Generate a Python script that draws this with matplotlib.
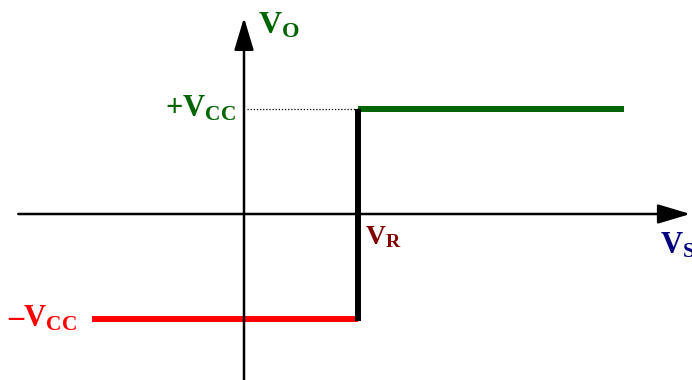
import matplotlib
matplotlib.use("Agg")
import matplotlib.pyplot as plt

plt.rcParams['mathtext.fontset'] = 'custom'
plt.rcParams['mathtext.bf'] = 'Liberation Serif:bold'
plt.rcParams['mathtext.rm'] = 'Liberation Serif:bold'

# Transfer characteristic of a comparator (values in units of Vcc)
vcc = 1.0
vr = 1.086
x_start = -1.448
x_end = 3.62
high_x = [vr, x_end]
high_y = [vcc, vcc]
low_x = [x_start, vr]
low_y = [-vcc, -vcc]
step_x = [vr, vr]
step_y = [-vcc - 0.02, vcc]

fig = plt.figure(figsize=(6.92, 3.80), dpi=100)
ax = fig.add_axes([0, 0, 1, 1])
ax.set_xlim(-244 / 105, (692 - 244) / 105)
ax.set_ylim(-(380 - 214) / 105, 214 / 105)
ax.axis('off')

arrow = dict(arrowstyle='-|>,head_length=1.0,head_width=0.3', mutation_scale=20,
             lw=1.8, color='black', shrinkA=0, shrinkB=0)
# horizontal axis
ax.annotate('', xy=(4.25, 0), xytext=(-2.15, 0), arrowprops=arrow)
# vertical axis
ax.annotate('', xy=(0, 1.87), xytext=(0, -1.6), arrowprops=arrow)

# dotted guide
ax.plot([0.03, vr], [vcc, vcc], color='black', lw=0.9, ls=(0, (1, 1.5)))

ax.plot(high_x, high_y, color='#006400', lw=4.3, solid_capstyle='butt')
ax.plot(low_x, low_y, color='#ff0000', lw=4.3, solid_capstyle='butt')
ax.plot(step_x, step_y, color='black', lw=4.3, solid_capstyle='butt')

fs = 22
tkw = dict(fontfamily='Liberation Serif', fontweight='bold')
ax.text(-0.076, vcc, '+' + r'$\mathbf{V_{CC}}$', color='#006400', fontsize=fs,
        ha='right', va='center', **tkw)
ax.text(-2.248, -vcc, '\u2013' + r'$\mathbf{V_{CC}}$', color='#ff0000', fontsize=fs,
        ha='left', va='center', **tkw)
ax.text(0.133, 1.79, r'$\mathbf{V_{O}}$', color='#006400', fontsize=fs + 1,
        ha='left', va='center', **tkw)
ax.text(1.152, -0.22, r'$\mathbf{V_{R}}$', color='#800000', fontsize=fs - 2,
        ha='left', va='center', **tkw)
ax.text(3.962, -0.30, r'$\mathbf{V_{S}}$', color='#000080', fontsize=fs,
        ha='left', va='center', **tkw)

fig.savefig('out.png', dpi=100)
